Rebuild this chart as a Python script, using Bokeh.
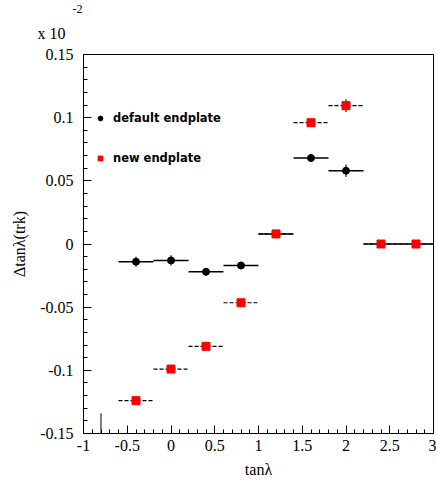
import numpy as np
from bokeh.plotting import figure
from bokeh.models import (ColumnDataSource, FixedTicker, Legend, LegendItem, Range1d, Title)
from bokeh.embed import file_html
from bokeh.resources import INLINE

# ---- data ----
bin_center = [-0.4, 0.0, 0.4, 0.8, 1.2, 1.6, 2.0, 2.4, 2.8]
bin_halfwidth = [0.2, 0.2, 0.2, 0.2, 0.2, 0.2, 0.2, 0.2, 0.2]
default_y = [-0.014, -0.013, -0.022, -0.017, 0.008, 0.068, 0.058, 0.0, 0.0]
default_err = [0.004, 0.004, 0.003, 0.003, 0.003, 0.003, 0.005, 0.002, 0.002]
new_y = [-0.124, -0.099, -0.081, -0.0465, 0.008, 0.096, 0.1095, 0.0, 0.0]
new_err = [0.003, 0.003, 0.002, 0.003, 0.003, 0.003, 0.005, 0.002, 0.002]

x_ticks = [-1, -0.5, 0, 0.5, 1, 1.5, 2, 2.5, 3]
x_tick_labels = ["-1", "-0.5", "0", "0.5", "1", "1.5", "2", "2.5", "3"]
y_ticks = [-0.15, -0.1, -0.05, 0, 0.05, 0.1, 0.15]
y_tick_labels = ["-0.15", "-0.1", "-0.05", "0", "0.05", "0.1", "0.15"]
exponent_texts = ["x 10", "-2"]
stray_tick_x = [-0.8]
stray_tick_top = [-0.134]

SERIF = "Liberation Serif"


def make_source(x, hw, y, e):
    x = np.array(x, float); hw = np.array(hw, float)
    y = np.array(y, float); e = np.array(e, float)
    return ColumnDataSource(dict(x=x, y=y, x0=x - hw, x1=x + hw,
                                 y0=y - e, y1=y + e))


src_def = make_source(bin_center, bin_halfwidth, default_y, default_err)
src_new = make_source(bin_center, bin_halfwidth, new_y, new_err)

p = figure(width=436, height=488, output_backend="svg", toolbar_location=None,
           x_range=Range1d(-1, 3), y_range=Range1d(-0.15, 0.15),
           min_border_left=83, min_border_right=3, min_border_top=54,
           min_border_bottom=55)
p.grid.visible = False
p.outline_line_color = "black"
p.outline_line_width = 1
p.background_fill_color = "white"

for ax in (p.xaxis[0], p.yaxis[0]):
    ax.major_tick_in = 8
    ax.major_tick_out = 0
    ax.minor_tick_in = 4
    ax.minor_tick_out = 0
    ax.axis_line_color = "black"
    ax.major_tick_line_color = "black"
    ax.minor_tick_line_color = "black"
    ax.major_label_text_font = SERIF
    ax.major_label_text_font_size = "16px"
    ax.major_label_text_color = "black"
    ax.axis_label_text_font = SERIF
    ax.axis_label_text_font_size = "16px"
    ax.axis_label_text_font_style = "normal"
    ax.axis_label_text_color = "black"

p.xaxis.ticker = FixedTicker(ticks=x_ticks,
                             minor_ticks=list(np.round(np.arange(-1, 3.0001, 0.1), 3)))
p.yaxis.ticker = FixedTicker(ticks=y_ticks,
                             minor_ticks=list(np.round(np.arange(-0.15, 0.15001, 0.01), 3)))
p.xaxis.major_label_overrides = {float(t): l for t, l in zip(x_ticks, x_tick_labels)}
p.yaxis.major_label_overrides = {float(t): l for t, l in zip(y_ticks, y_tick_labels)}
p.xaxis.major_label_standoff = 6
p.yaxis.major_label_standoff = 10
p.xaxis.axis_label = "tanλ"
p.xaxis.axis_label_standoff = 7
p.yaxis.axis_label = "Δtanλ(trk)"
p.yaxis.axis_label_standoff = 9

p.segment(x0=stray_tick_x, x1=stray_tick_x, y0=[-0.15], y1=stray_tick_top,
          line_color="black", line_width=1)

p.segment("x0", "y", "x1", "y", source=src_def, line_color="black", line_width=1.5)
p.segment("x", "y0", "x", "y1", source=src_def, line_color="#444444", line_width=1.5)
r_def = p.scatter("x", "y", source=src_def, marker="circle", size=7,
                  fill_color="black", line_color="black")

p.segment("x0", "y", "x1", "y", source=src_new, line_color="black", line_width=1.2,
          line_dash="4 2")
p.segment("x", "y0", "x", "y1", source=src_new, line_color="#444444", line_width=1.5)
r_new = p.scatter("x", "y", source=src_new, marker="square", size=8,
                  fill_color="#ff0000", line_color="#ff0000")

legend = Legend(items=[LegendItem(label="default endplate", renderers=[r_def]),
                       LegendItem(label="new endplate", renderers=[r_new])],
                location=(11, 268), orientation="vertical",
                glyph_width=12, glyph_height=12, label_height=12,
                label_standoff=7, spacing=26, padding=0, margin=0,
                border_line_alpha=0, background_fill_alpha=0,
                label_text_font="DejaVu Sans", label_text_font_style="bold",
                label_text_font_size="11.5px", label_text_color="black")
p.add_layout(legend)

# exponent note "x 10^-2" above the y axis, as titles
p.title.text = exponent_texts[1]
p.title.align = "left"
p.title.vertical_align = "top"
p.title.offset = -11
p.title.standoff = 0
p.title.text_font = SERIF
p.title.text_font_size = "12px"
p.title.text_font_style = "normal"
p.title.text_color = "black"

p.add_layout(Title(text=exponent_texts[0], align="left", vertical_align="top",
                   offset=-46, standoff=21, text_font=SERIF, text_font_size="16px",
                   text_font_style="normal", text_color="black"), "above")

open("out.html", "w").write(file_html(p, INLINE))
